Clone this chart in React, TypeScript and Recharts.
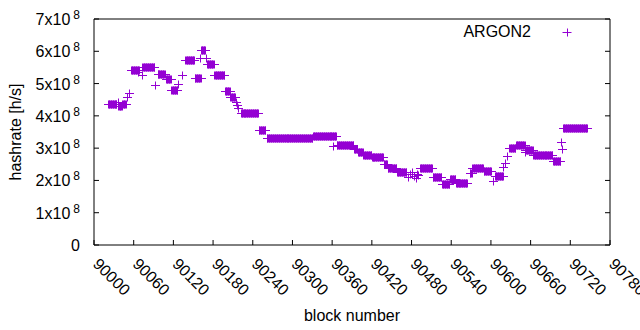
import React from 'react';
import { ScatterChart, Scatter, XAxis, YAxis, Legend } from 'recharts';

const VIOLET = '#9400d3';
const FONT = '"Liberation Sans", Arial, sans-serif';

// hashrate per block, in units of 1e8 h/s, stored as constant runs between retargets
const runStart = [
  90021, 90037, 90043, 90056, 90073, 90096, 90109, 90117, 90138, 90152,
  90162, 90171, 90182, 90198, 90206, 90222, 90249, 90261, 90331, 90367,
  90393, 90399, 90407, 90420, 90438, 90444, 90458, 90493, 90512, 90526,
  90538, 90547, 90568, 90572, 90589, 90606, 90628, 90638, 90652, 90664,
  90694, 90709,
];
const runEnd = [
  90034, 90042, 90048, 90068, 90091, 90107, 90116, 90126, 90151, 90161,
  90168, 90181, 90197, 90205, 90213, 90248, 90259, 90330, 90366, 90392,
  90398, 90406, 90419, 90437, 90443, 90457, 90472, 90511, 90525, 90537,
  90546, 90564, 90571, 90588, 90600, 90618, 90637, 90651, 90663, 90693,
  90705, 90745,
];
const runLevel = [
  4.37, 4.3, 4.38, 5.43, 5.5, 5.3, 5.15, 4.8, 5.72, 5.17,
  6.05, 5.6, 5.28, 4.77, 4.58, 4.08, 3.55, 3.31, 3.37, 3.1,
  2.98, 2.88, 2.8, 2.72, 2.5, 2.38, 2.25, 2.4, 2.1, 1.89,
  2.03, 1.93, 2.22, 2.4, 2.28, 2.13, 3.0, 3.1, 2.93, 2.8,
  2.6, 3.62,
];

// single blocks that stand apart from the runs
const spotBlock = [
  90036, 90050, 90053, 90067, 90072, 90092, 90127, 90133, 90160, 90170,
  90215, 90216, 90218, 90361, 90474, 90477, 90480, 90483, 90486, 90488,
  90490, 90603, 90619, 90621, 90624, 90651, 90706, 90707,
];
const spotLevel = [
  4.44, 4.58, 4.7, 5.37, 5.26, 4.95, 5.0, 5.26, 5.8, 5.8,
  4.44, 4.33, 4.23, 3.07, 2.12, 2.2, 2.25, 2.15, 2.07, 2.2,
  2.16, 1.98, 2.42, 2.53, 2.75, 2.88, 3.19, 2.97,
];

const blockTicks = [
  90000, 90060, 90120, 90180, 90240, 90300, 90360, 90420,
  90480, 90540, 90600, 90660, 90720, 90780,
];
const rateTicks = [0, 1, 2, 3, 4, 5, 6, 7];

const points: { block: number; rate: number }[] = [];
runStart.forEach((s, i) => {
  for (let b = s; b <= runEnd[i]; b++) points.push({ block: b, rate: runLevel[i] });
});
spotBlock.forEach((b, i) => points.push({ block: b, rate: spotLevel[i] }));

function Plus({ cx, cy }: any) {
  if (cx == null || cy == null) return null;
  const px = Math.round(cx) + 0.5;
  const py = Math.round(cy) + 0.5;
  return (
    <path
      d={`M${px - 4.5},${py}h9M${px},${py - 4}v8`}
      stroke={VIOLET}
      strokeWidth={1}
      fill="none"
    />
  );
}

function BottomTick({ x, y, payload }: any) {
  const tx = x - 2;
  const ty = y + 20;
  return (
    <g>
      <line x1={x} y1={y} x2={x} y2={y - 5} stroke="#000" />
      <text
        x={tx}
        y={ty}
        transform={`rotate(45 ${tx} ${ty})`}
        fontSize={16}
        fontFamily={FONT}
        fill="#000"
      >
        {payload.value}
      </text>
    </g>
  );
}

function TopTick({ x, y }: any) {
  return <line x1={x} y1={y} x2={x} y2={y + 5} stroke="#000" />;
}

function LeftTick({ x, y, payload }: any) {
  const v = payload.value;
  return (
    <g>
      <line x1={x} y1={y} x2={x + 5} y2={y} stroke="#000" />
      <text x={x - 14} y={y + 6} textAnchor="end" fontSize={16} fontFamily={FONT} fill="#000">
        {v === 0 ? '0' : `${v}x10`}
        {v !== 0 && (
          <tspan dx={3} dy={-6} fontSize={12}>
            8
          </tspan>
        )}
      </text>
    </g>
  );
}

function RightTick({ x, y }: any) {
  return <line x1={x} y1={y} x2={x - 5} y2={y} stroke="#000" />;
}

function LegendBox() {
  return (
    <svg width={180} height={34}>
      <text x={91} y={27} textAnchor="end" fontSize={16} fontFamily={FONT} fill="#000">
        ARGON2
      </text>
      <path d="M122.5,22.5h9M127.5,18.5v8" stroke={VIOLET} strokeWidth={1} fill="none" />
    </svg>
  );
}

export default function App() {
  return (
    <div style={{ position: 'absolute', left: 0, top: 0, background: '#fff' }}>
      <ScatterChart width={640} height={330} margin={{ top: 0, right: 0, bottom: 0, left: 0 }}>
        <XAxis
          xAxisId="b"
          dataKey="block"
          type="number"
          domain={[90000, 90780]}
          ticks={blockTicks}
          allowDataOverflow
          height={85}
          tickSize={0}
          tickMargin={0}
          tickLine={false}
          axisLine={{ stroke: '#000' }}
          tick={<BottomTick />}
          interval={0}
          label={(p: any) => {
            const vb = p.viewBox;
            return (
              <text
                x={vb.x + vb.width / 2}
                y={vb.y + 76}
                textAnchor="middle"
                fontSize={16}
                fontFamily={FONT}
                fill="#000"
              >
                block number
              </text>
            );
          }}
        />
        <XAxis
          xAxisId="t"
          orientation="top"
          type="number"
          domain={[90000, 90780]}
          ticks={blockTicks}
          allowDataOverflow
          height={19}
          tickSize={0}
          tickMargin={0}
          tickLine={false}
          axisLine={{ stroke: '#000' }}
          tick={<TopTick />}
          interval={0}
        />
        <YAxis
          yAxisId="l"
          dataKey="rate"
          type="number"
          domain={[0, 7]}
          ticks={rateTicks}
          allowDataOverflow
          width={94}
          tickSize={0}
          tickMargin={0}
          tickLine={false}
          axisLine={{ stroke: '#000' }}
          tick={<LeftTick />}
          interval={0}
          label={(p: any) => {
            const vb = p.viewBox;
            const lx = vb.x + 21;
            const ly = vb.y + vb.height / 2;
            return (
              <text
                x={lx}
                y={ly}
                transform={`rotate(-90 ${lx} ${ly})`}
                textAnchor="middle"
                fontSize={16}
                fontFamily={FONT}
                fill="#000"
              >
                hashrate [h/s]
              </text>
            );
          }}
        />
        <YAxis
          yAxisId="r"
          orientation="right"
          type="number"
          domain={[0, 7]}
          ticks={rateTicks}
          allowDataOverflow
          width={30}
          tickSize={0}
          tickMargin={0}
          tickLine={false}
          axisLine={{ stroke: '#000' }}
          tick={<RightTick />}
          interval={0}
        />
        <Legend
          layout="horizontal"
          verticalAlign="middle"
          align="center"
          wrapperStyle={{ top: 10, left: 440, width: 180, height: 34 }}
          content={() => <LegendBox />}
        />
        <Scatter
          name="ARGON2"
          data={points}
          xAxisId="b"
          yAxisId="l"
          dataKey="rate"
          shape={(p: any) => <Plus {...p} />}
          isAnimationActive={false}
        />
      </ScatterChart>
    </div>
  );
}
